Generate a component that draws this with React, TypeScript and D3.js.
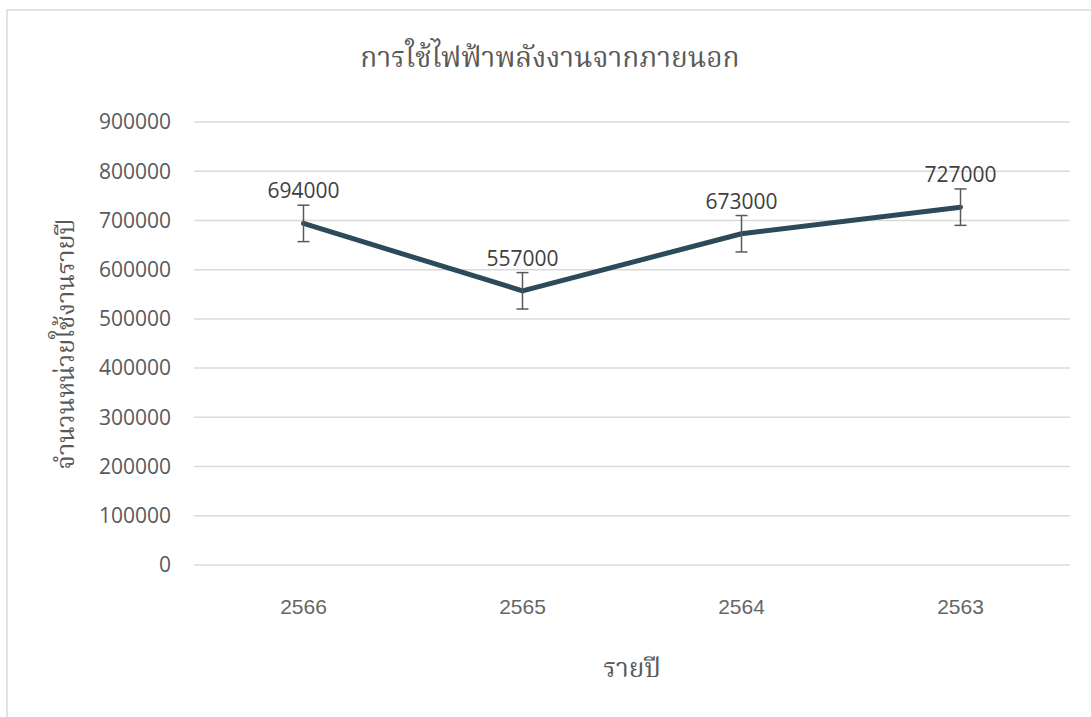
import React, { useEffect, useRef } from "react";
import * as d3 from "d3";

const years = ["2566", "2565", "2564", "2563"];
const usage = [694000, 557000, 673000, 727000];
const errorAmount = 37000;
const yTicks = [0, 100000, 200000, 300000, 400000, 500000, 600000, 700000, 800000, 900000];

const title = "การใช้ไฟฟ้าพลังงานจากภายนอก";
const xTitle = "รายปี";
const yTitle = "จำนวนหน่วยใช้งานรายปี";

const width = 1091,
  height = 717;

export default function App() {
  const ref = useRef<SVGSVGElement | null>(null);

  useEffect(() => {
    document.body.style.margin = "0";
    const svg = d3.select(ref.current);
    svg.selectAll("*").remove();

    const thaiFont = "'Noto Serif Thai', 'Angsana New', serif";
    const numFont = "'Open Sans', 'Noto Sans', sans-serif";

    // chart frame (runs off the right/bottom edge like the original)
    svg
      .append("rect")
      .attr("x", 7)
      .attr("y", 10)
      .attr("width", 1200)
      .attr("height", 800)
      .attr("fill", "white")
      .attr("stroke", "#d9d9d9")
      .attr("stroke-width", 1.5);

    const x = d3.scaleBand().domain(years).range([194, 1070]);
    const y = d3.scaleLinear().domain([0, 900000]).range([565, 122]);

    // gridlines
    svg
      .append("g")
      .selectAll("line")
      .data(yTicks)
      .enter()
      .append("line")
      .attr("x1", 194)
      .attr("x2", 1070)
      .attr("y1", (d) => y(d))
      .attr("y2", (d) => y(d))
      .attr("stroke", "#d9d9d9")
      .attr("stroke-width", 1.5);

    // y tick labels
    svg
      .append("g")
      .selectAll("text")
      .data(yTicks)
      .enter()
      .append("text")
      .attr("x", 171)
      .attr("y", (d) => y(d))
      .attr("dy", "0.35em")
      .attr("text-anchor", "end")
      .style("font-family", numFont)
      .style("font-size", "21px")
      .attr("fill", "#595959")
      .text((d) => String(d));

    // x tick labels
    svg
      .append("g")
      .selectAll("text")
      .data(years)
      .enter()
      .append("text")
      .attr("x", (d) => x(d)! + x.bandwidth() / 2)
      .attr("y", 614)
      .attr("text-anchor", "middle")
      .style("font-family", "'Liberation Sans', Arial, sans-serif")
      .style("font-size", "21px")
      .attr("fill", "#666666")
      .text((d) => d);

    const cx = (i: number) => x(years[i])! + x.bandwidth() / 2;

    // line
    const line = d3
      .line<number>()
      .x((_, i) => cx(i))
      .y((d) => y(d));

    svg
      .append("path")
      .datum(usage)
      .attr("d", line)
      .attr("fill", "none")
      .attr("stroke", "#2c4a59")
      .attr("stroke-width", 5)
      .attr("stroke-linejoin", "round")
      .attr("stroke-linecap", "round");

    // error bars
    const eb = svg.append("g").attr("stroke", "#595959").attr("stroke-width", 1.5);
    usage.forEach((v, i) => {
      const px = cx(i);
      const top = y(v + errorAmount);
      const bot = y(v - errorAmount);
      eb.append("line").attr("x1", px).attr("x2", px).attr("y1", top).attr("y2", bot);
      eb.append("line").attr("x1", px - 6).attr("x2", px + 6).attr("y1", top).attr("y2", top);
      eb.append("line").attr("x1", px - 6).attr("x2", px + 6).attr("y1", bot).attr("y2", bot);
    });

    // data labels
    svg
      .append("g")
      .selectAll("text")
      .data(usage)
      .enter()
      .append("text")
      .attr("x", (_, i) => cx(i))
      .attr("y", (d) => y(d + errorAmount) - 7)
      .attr("text-anchor", "middle")
      .style("font-family", numFont)
      .style("font-size", "21px")
      .attr("fill", "#404040")
      .text((d) => String(d));

    // title
    svg
      .append("text")
      .attr("x", 550)
      .attr("y", 67)
      .attr("text-anchor", "middle")
      .style("font-family", thaiFont)
      .style("font-size", "28px")
      .attr("fill", "#595959")
      .text(title);

    // axis titles
    svg
      .append("text")
      .attr("x", 632)
      .attr("y", 677)
      .attr("text-anchor", "middle")
      .style("font-family", thaiFont)
      .style("font-size", "26px")
      .attr("fill", "#595959")
      .text(xTitle);

    svg
      .append("text")
      .attr("transform", `translate(74, 344) rotate(-90)`)
      .attr("text-anchor", "middle")
      .style("font-family", thaiFont)
      .style("font-size", "25px")
      .attr("fill", "#595959")
      .text(yTitle);
  }, []);

  return <svg ref={ref} width={width} height={height} style={{ display: "block" }} />;
}
